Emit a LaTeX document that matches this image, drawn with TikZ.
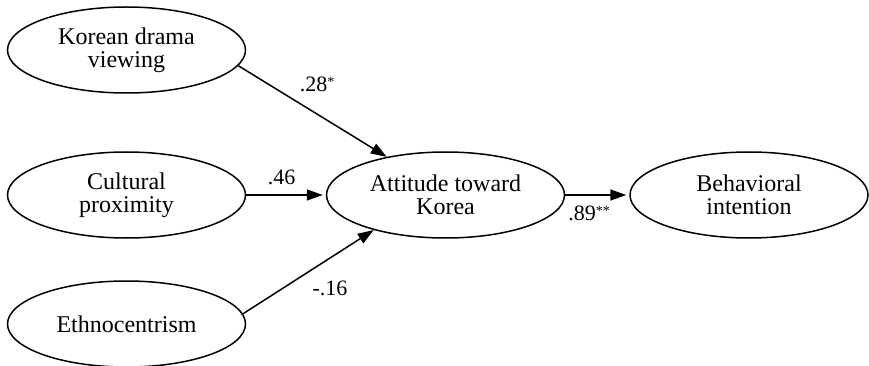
\documentclass[tikz,border=0pt]{standalone}
\usepackage{fontspec}
\setmainfont{Liberation Serif}
\usetikzlibrary{shapes.geometric,arrows.meta}
\newcommand{\sigstar}{\raisebox{5pt}{\fontsize{14}{14}\selectfont*}}
\tikzset{
  latent/.style={draw, ellipse, line width=1.5pt, minimum width=238pt, minimum height=86pt,
    inner sep=0pt, align=center, font=\fontsize{24}{23}\selectfont},
  path/.style={line width=1.5pt, -{Triangle[length=16pt,width=11pt]}},
  coef/.style={anchor=base, inner sep=0pt, font=\fontsize{22}{22}\selectfont}
}
\begin{document}
\begin{tikzpicture}[x=1pt,y=-1pt]
\useasboundingbox (0,0) rectangle (869,366);
\node[latent] (kd) at (126.5,50) {Korean drama\\viewing};
\node[latent] (cp) at (126.5,195) {Cultural\\proximity};
\node[latent] (et) at (126.5,324) {Ethnocentrism};
\node[latent] (ak) at (445.5,195) {Attitude toward\\Korea};
\node[latent] (bi) at (749,195) {Behavioral\\intention};
\draw[path] (kd.-8.75) -- (ak.147);
\draw[path, shorten >=3pt] (cp.east) -- (ak.west);
\draw[path] (et.5.9) -- (ak.206);
\draw[path, shorten >=3pt] (ak.east) -- (bi.west);
\node[coef] (l1) at (317,91.7) {.28\sigstar};
\node[coef] (l2) at (281.5,184) {.46};
\node[coef] (l3) at (330,295) {-.16};
\node[coef] (l4) at (589,220.5) {.89\sigstar\sigstar};
\end{tikzpicture}
\end{document}
